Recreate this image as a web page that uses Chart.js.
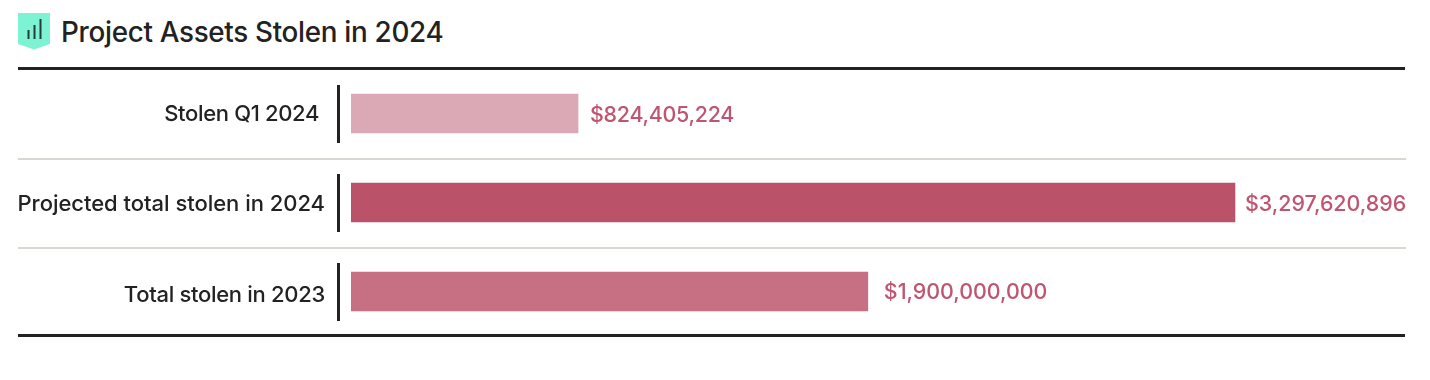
<!DOCTYPE html>
<html>
<head>
<meta charset="utf-8">
<title>Project Assets Stolen in 2024</title>
<script src="https://cdn.jsdelivr.net/npm/chart.js@4"></script>
<style>
  html, body { margin: 0; background: #fff; }
  #wrap { position: relative; width: 1430px; height: 380px; overflow: hidden; }
  #chart { position: absolute; left: 0; top: 0; }
  #icon { position: absolute; left: 18px; top: 13px; }
  #title {
    position: absolute; left: 61px; top: 15px;
    font: 500 27.8px Inter, sans-serif; letter-spacing: -0.3px; color: #222; white-space: nowrap;
  }
</style>
</head>
<body>
<div id="wrap">
  <svg id="icon" width="32" height="37" viewBox="0 0 32 37">
    <path d="M0 0H32V31L16 36.5L0 31Z" fill="#7DF3D3"/>
    <path d="M10.5 17V26M16.5 12V26M22.5 6V26" stroke="#2a3a38" stroke-width="2" fill="none"/>
  </svg>
  <div id="title">Project Assets Stolen in 2024</div>
  <canvas id="chart" width="1430" height="380"></canvas>
</div>
<script>
const categories = ["Stolen Q1 2024", "Projected total stolen in 2024", "Total stolen in 2023"];
// 棒の長さは画像から読み取り（印字の金額とは厳密に比例していない）
const barValues = [847000000, 3297620896, 1928000000];
const valueLabels = ["$824,405,224", "$3,297,620,896", "$1,900,000,000"];
const barColors = ["#DBA9B5", "#BA5369", "#C77084"];

const INK = "#222222";
const FONT = "Inter, sans-serif";

// ラベルの微調整（行ごと）
const catRight = [319, 325, 325];
const catShift = [1, 2, 4];
const catSpacing = ["-0.35px", "-0.03px", "-0.3px"];
const valueGap = [12, 10, 16];
const valueShift = [1, 1, 0];
const valueSpacing = ["-0.25px", "0px", "0px"];

// 横罫線・縦の短い線・カテゴリ名・金額ラベル
const decorPlugin = {
  id: "decor",
  afterDatasetsDraw(chart) {
    const { ctx, scales, chartArea } = chart;
    const y = scales.y;
    ctx.save();

    // 行の区切り
    ctx.fillStyle = "#D8D8D2";
    for (let i = 1; i < categories.length; i++) {
      const sep = (y.getPixelForTick(i - 1) + y.getPixelForTick(i)) / 2;
      ctx.fillRect(18, Math.round(sep), 1388, 2);
    }

    // 上下の黒線
    ctx.fillStyle = INK;
    ctx.fillRect(18, chartArea.top - 2, 1387, 3);
    ctx.fillRect(18, chartArea.bottom - 2, 1387, 3);

    // 各行の縦線
    categories.forEach((_, i) => {
      const cy = y.getPixelForTick(i);
      ctx.fillRect(337, Math.round(cy) - 29, 3, 58);
    });

    // カテゴリ名
    ctx.textBaseline = "middle";
    ctx.textAlign = "right";
    ctx.font = "500 22px " + FONT;
    categories.forEach((name, i) => {
      ctx.letterSpacing = catSpacing[i];
      ctx.fillText(name, catRight[i], y.getPixelForTick(i) + catShift[i]);
    });

    // 金額ラベル
    ctx.font = "500 21.4px " + FONT;
    ctx.fillStyle = "#BF5570";
    ctx.textAlign = "left";
    chart.getDatasetMeta(0).data.forEach((bar, i) => {
      ctx.letterSpacing = valueSpacing[i];
      ctx.fillText(valueLabels[i], bar.x + valueGap[i], bar.y + 1 + valueShift[i]);
    });
    ctx.restore();
  }
};

new Chart(document.getElementById("chart"), {
  type: "bar",
  data: {
    labels: categories,
    datasets: [{
      data: barValues,
      backgroundColor: barColors,
      barThickness: 39,
      borderWidth: 0
    }]
  },
  options: {
    indexAxis: "y",
    responsive: false,
    animation: false,
    layout: { padding: { top: 69, bottom: 44, left: 0, right: 25 } },
    plugins: { legend: { display: false }, tooltip: { enabled: false } },
    scales: {
      x: {
        display: false,
        min: 0,
        max: 3932000000
      },
      y: {
        afterFit(scale) { scale.width = 351; },
        grid: { display: false },
        border: { display: false },
        ticks: { display: false }
      }
    }
  },
  plugins: [decorPlugin]
});
</script>
</body>
</html>
